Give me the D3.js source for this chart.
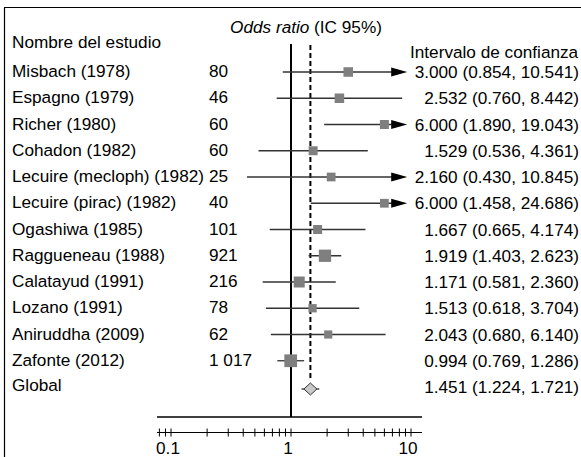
<!DOCTYPE html>
<html>
<head>
<meta charset="utf-8">
<script src="https://cdn.jsdelivr.net/npm/d3@7"></script>
<style>
  html, body { margin: 0; padding: 0; background: #fff; }
  svg { display: block; font-family: "Liberation Sans", Arial, sans-serif; }
</style>
</head>
<body>
<div id="chart"></div>
<script>
// Forest plot: odds ratio per study + pooled estimate

const studies = [
  "Misbach (1978)", "Espagno (1979)", "Richer (1980)", "Cohadon (1982)",
  "Lecuire (mecloph) (1982)", "Lecuire (pirac) (1982)", "Ogashiwa (1985)",
  "Raggueneau (1988)", "Calatayud (1991)", "Lozano (1991)",
  "Aniruddha (2009)", "Zafonte (2012)"
];
const counts = [80, 46, 60, 60, 25, 40, 101, 921, 216, 78, 62, 1017];
const oddsRatio = [3.000, 2.532, 6.000, 1.529, 2.160, 6.000, 1.667, 1.919, 1.171, 1.513, 2.043, 0.994];
const ciLow = [0.854, 0.760, 1.890, 0.536, 0.430, 1.458, 0.665, 1.403, 0.581, 0.618, 0.680, 0.769];
const ciHigh = [10.541, 8.442, 19.043, 4.361, 10.845, 24.686, 4.174, 2.623, 2.360, 3.704, 6.140, 1.286];
// relative weights (estimated from square sizes)
const weights = [4.5, 4.5, 4.0, 4.0, 3.8, 3.8, 4.0, 7.5, 6.0, 3.4, 3.3, 8.0];

const pooledLabel = "Global";
const pooled = { or: 1.451, lo: 1.224, hi: 1.721 };

const axisTicks = [0.08, 0.09, 0.1, 0.2, 0.3, 0.4, 0.5, 0.6, 0.7, 0.8, 0.9, 1, 2, 3, 4, 5, 6, 7, 8, 9, 10];
const tickLabels = [0.1, 1, 10];
const clipMax = 9.3; // CIs beyond this get an arrow

const width = 581, height = 457;
const fs = 17.2;

const svg = d3.select("#chart").append("svg")
  .attr("width", width)
  .attr("height", height);

const x = d3.scaleLog().domain([1, 10]).range([291, 411]);
const axisLeft = 157, axisRight = 422;

const rows = studies.concat([pooledLabel]);
const y = d3.scalePoint().domain(rows).range([72, 387]);

const side = d3.scaleSqrt().domain([0, 8]).range([0, 12.7]);

const fmt3 = d3.format(".3f");
const fmtCount = n => d3.format(",")(n).replace(/,/g, " ");

const data = studies.map((s, i) => ({
  name: s, n: counts[i], or: oddsRatio[i], lo: ciLow[i], hi: ciHigh[i], w: weights[i]
}));

// frame (top + left)
svg.append("path")
  .attr("d", `M4.5,${height}V7.5H${width}`)
  .attr("fill", "none")
  .attr("stroke", "#000")
  .attr("stroke-width", 1.2);

// headers
svg.append("text")
  .attr("x", 12).attr("y", 48)
  .attr("font-size", fs)
  .text("Nombre del estudio");

const orTitle = svg.append("text")
  .attr("x", 306).attr("y", 33)
  .attr("text-anchor", "middle")
  .attr("font-size", fs);
orTitle.append("tspan").attr("font-style", "italic").text("Odds ratio");
orTitle.append("tspan").text(" (IC 95%)");

svg.append("text")
  .attr("x", 410).attr("y", 58)
  .attr("font-size", fs)
  .text("Intervalo de confianza");

// reference lines
svg.append("line")
  .attr("x1", x(1)).attr("x2", x(1))
  .attr("y1", 44).attr("y2", 417)
  .attr("stroke", "#000").attr("stroke-width", 2);

svg.append("line")
  .attr("x1", x(pooled.or)).attr("x2", x(pooled.or))
  .attr("y1", 45).attr("y2", y(pooledLabel) - 6)
  .attr("stroke", "#000").attr("stroke-width", 2)
  .attr("stroke-dasharray", "5,3");

// study rows
const row = svg.selectAll(".study")
  .data(data)
  .enter().append("g")
  .attr("class", "study")
  .attr("transform", d => `translate(0,${y(d.name)})`);

row.append("text")
  .attr("x", 12).attr("y", -1)
  .attr("dominant-baseline", "central")
  .attr("font-size", fs)
  .text(d => d.name);

row.append("text")
  .attr("x", 209).attr("y", -1)
  .attr("dominant-baseline", "central")
  .attr("font-size", fs)
  .text(d => fmtCount(d.n));

row.append("line")
  .attr("x1", d => x(d.lo))
  .attr("x2", d => d.hi > clipMax ? x(clipMax) - 15 : x(d.hi))
  .attr("y1", 0).attr("y2", 0)
  .attr("stroke", "#333").attr("stroke-width", 1.3);

row.filter(d => d.hi > clipMax).append("path")
  .attr("d", d => {
    const tip = x(clipMax);
    return `M${tip},0L${tip - 16},-4.5L${tip - 16},4.5Z`;
  })
  .attr("fill", "#000");

row.append("rect")
  .attr("x", d => x(d.or) - side(d.w) / 2)
  .attr("y", d => -side(d.w) / 2)
  .attr("width", d => side(d.w))
  .attr("height", d => side(d.w))
  .attr("fill", "#7f7f7f");

row.append("text")
  .attr("x", 579).attr("y", 0)
  .attr("text-anchor", "end")
  .attr("dominant-baseline", "central")
  .attr("font-size", fs)
  .text(d => `${fmt3(d.or)} (${fmt3(d.lo)}, ${fmt3(d.hi)})`);

// pooled row
const g = svg.append("g").attr("transform", `translate(0,${y(pooledLabel)})`);
g.append("text")
  .attr("x", 12).attr("y", -2)
  .attr("dominant-baseline", "central")
  .attr("font-size", fs)
  .text(pooledLabel);
g.append("line")
  .attr("x1", x(pooled.lo)).attr("x2", x(pooled.hi))
  .attr("y1", 2).attr("y2", 2)
  .attr("stroke", "#333").attr("stroke-width", 1.3);
const cx = x(pooled.or);
g.append("path")
  .attr("d", `M${cx - 6.5},2L${cx},-4L${cx + 6.5},2L${cx},8Z`)
  .attr("fill", "#c8c8c8")
  .attr("stroke", "#333")
  .attr("stroke-width", 1);
g.append("text")
  .attr("x", 579).attr("y", 0)
  .attr("text-anchor", "end")
  .attr("dominant-baseline", "central")
  .attr("font-size", fs)
  .text(`${fmt3(pooled.or)} (${fmt3(pooled.lo)}, ${fmt3(pooled.hi)})`);

// baseline under the plot
svg.append("line")
  .attr("x1", axisLeft).attr("x2", axisRight)
  .attr("y1", 417).attr("y2", 417)
  .attr("stroke", "#000").attr("stroke-width", 1.5);

// log axis
const axisY = 432.5;
svg.append("line")
  .attr("x1", axisLeft).attr("x2", axisRight)
  .attr("y1", axisY).attr("y2", axisY)
  .attr("stroke", "#000").attr("stroke-width", 1.2);

svg.selectAll(".tick")
  .data(axisTicks)
  .enter().append("line")
  .attr("class", "tick")
  .attr("x1", d => x(d)).attr("x2", d => x(d))
  .attr("y1", axisY - 4).attr("y2", axisY + 4)
  .attr("stroke", "#000").attr("stroke-width", 1);

svg.selectAll(".tick-label")
  .data(tickLabels)
  .enter().append("text")
  .attr("class", "tick-label")
  .attr("x", d => x(d) - 3)
  .attr("y", 448)
  .attr("text-anchor", "middle")
  .attr("dominant-baseline", "central")
  .attr("font-size", fs)
  .text(d => d);
</script>
</body>
</html>
